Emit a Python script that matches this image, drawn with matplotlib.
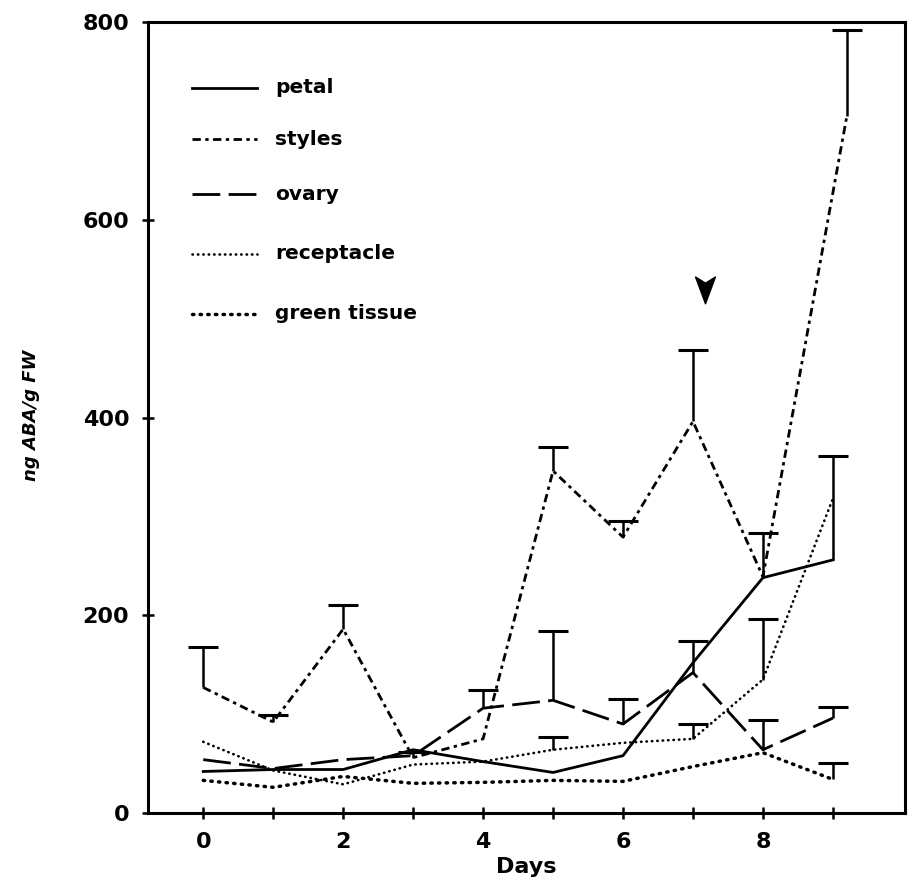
import numpy as np
import matplotlib.pyplot as plt
from matplotlib.path import Path

nan = np.nan

# ABA content of flower parts over days after opening
days = [0, 1, 2, 3, 4, 5, 6, 7, 8, 9]
days_styles = [0, 1, 2, 3, 4, 5, 6, 7, 8, 9.2]

petal = [42, 44, 44, 64, 52, 41, 58, 152, 238, 256]
petal_se = [nan, nan, nan, nan, nan, nan, nan, nan, nan, 105]

styles = [127, 92, 186, 56, 75, 346, 279, 396, 239, 705]
styles_se = [41, 7, 24, 6, nan, 24, 16, 72, 44, 87]

ovary = [54, 45, 54, 58, 106, 114, 90, 142, 64, 96]
ovary_se = [nan, nan, nan, nan, 18, 70, 25, 32, 30, 11]

receptacle = [72, 43, 29, 49, 52, 64, 71, 75, 135, 318]
receptacle_se = [nan, nan, nan, nan, nan, 13, nan, 15, 61, nan]

green = [33, 26, 37, 30, 31, 33, 32, 47, 61, 34]
green_se = [nan, nan, nan, nan, nan, nan, nan, nan, nan, 17]

names = ['petal', 'styles', 'ovary', 'receptacle', 'green tissue']

styles_ls = {
    'petal': dict(linestyle='-', lw=2.0),
    'styles': dict(linestyle=(0, (3, 1.6, 1.2, 1.6)), lw=2.0),
    'ovary': dict(linestyle=(0, (10, 3)), lw=2.0),
    'receptacle': dict(linestyle=(0, (0.15, 1.9)), lw=1.9, dash_capstyle='round'),
    'green tissue': dict(linestyle=(0, (0.4, 1.8)), lw=2.5, dash_capstyle='round'),
}

fig = plt.figure(figsize=(9.22, 8.84), dpi=100)
ax = fig.add_axes([0.1605, 0.0803, 0.821, 0.8948])

series = [
    ('petal', days, petal, petal_se),
    ('styles', days_styles, styles, styles_se),
    ('ovary', days, ovary, ovary_se),
    ('receptacle', days, receptacle, receptacle_se),
    ('green tissue', days, green, green_se),
]

for name, x, y, se in series:
    ax.plot(x, y, color='black', **styles_ls[name])
    se = np.array(se, dtype=float)
    line, caps, bars = ax.errorbar(x, y, yerr=[np.zeros_like(se), se], fmt='none',
                                   ecolor='black', elinewidth=1.8, capsize=11, capthick=2.2)
    caps[0].set_visible(False)

# legend drawn by hand: short line sample then label
legend_y = [0.917, 0.852, 0.782, 0.707, 0.631]
for name, ly in zip(names, legend_y):
    ax.plot([0.058, 0.144], [ly, ly], transform=ax.transAxes, color='black',
            **styles_ls[name])
    ax.text(0.168, ly, name, transform=ax.transAxes, fontsize=14.5, fontweight='bold',
            va='center', ha='left')

# arrow marking day 7
arrow = Path([(0, -1), (-0.65, 0.75), (0, 0.35), (0.65, 0.75), (0, -1)],
             [Path.MOVETO, Path.LINETO, Path.LINETO, Path.LINETO, Path.CLOSEPOLY])
ax.plot([7.17], [531], marker=arrow, markersize=22, color='black', linestyle='none')

ax.set_xlim(-0.79, 10.03)
ax.set_ylim(0, 800)
ax.set_xticks(days)
ax.set_xticklabels([str(d) if d % 2 == 0 else '' for d in days])
ax.set_yticks([0, 200, 400, 600, 800])
ax.tick_params(direction='inout', length=9, width=1.8, labelsize=16, pad=9)
for lab in ax.get_xticklabels() + ax.get_yticklabels():
    lab.set_fontweight('bold')
for sp in ax.spines.values():
    sp.set_linewidth(2.2)

ax.set_xlabel('Days', fontsize=16, fontweight='bold', labelpad=4)
fig.text(0.034, 0.53, 'ng ABA/g FW', rotation=90, fontsize=13, fontstyle='italic',
         fontweight='bold', ha='center', va='center',
         family=['Liberation Sans Narrow', 'DejaVu Sans'])

fig.savefig('out.png', dpi=100)
